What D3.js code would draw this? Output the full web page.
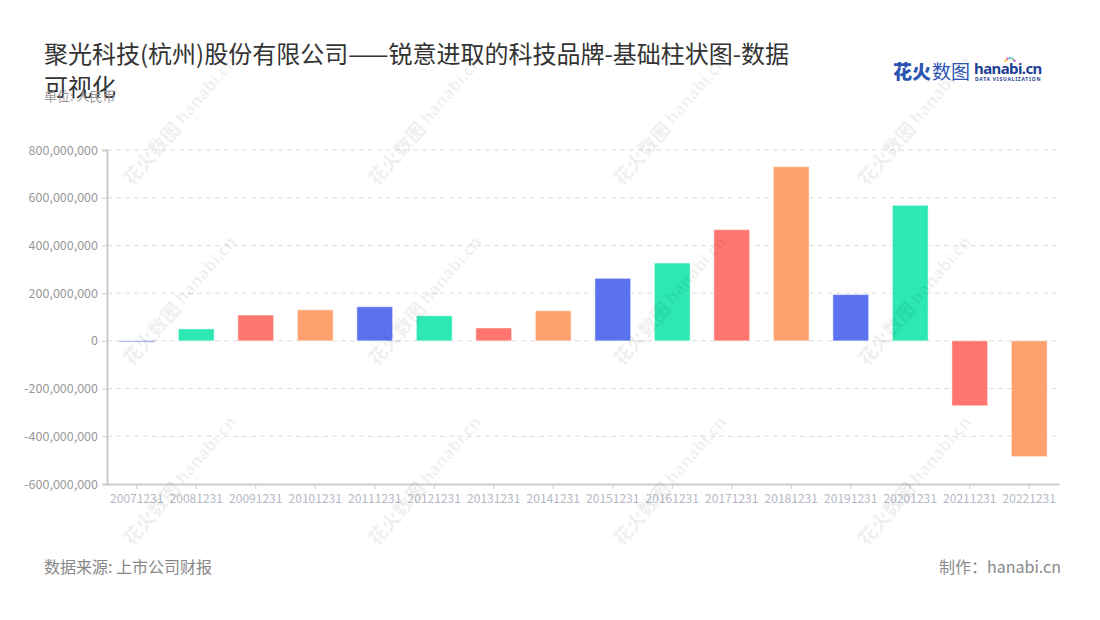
<!DOCTYPE html>
<html><head><meta charset="utf-8">
<script src="https://cdn.jsdelivr.net/npm/d3@7/dist/d3.min.js"></script>
<style>
html,body{margin:0;padding:0;background:#fff;}
svg{display:block;font-family:"Noto Sans CJK SC","Noto Sans",sans-serif;}
</style></head>
<body><svg id="c" width="1100" height="620"></svg>
<script>
const categories = ["20071231","20081231","20091231","20101231","20111231","20121231","20131231","20141231","20151231","20161231","20171231","20181231","20191231","20201231","20211231","20221231"];
const values = [-4e6, 50e6, 108e6, 130e6, 143e6, 105e6, 54e6, 126e6, 262e6, 326e6, 466e6, 730e6, 194e6, 568e6, -272e6, -485e6];
const yTicks = [-600e6, -400e6, -200e6, 0, 200e6, 400e6, 600e6, 800e6];
const palette = ["#5a72ee", "#2de8b2", "#ff7670", "#ffa26f"];
const titleLines = ["聚光科技(杭州)股份有限公司——锐意进取的科技品牌-基础柱状图-数据", "可视化"];
const subtitle = "单位: 人民币";
const sourceText = "数据来源: 上市公司财报";
const makerText = "制作：hanabi.cn";

(function () {
const svg = d3.select("#c");
const pLeft = 107, pRight = 1059, pTop = 150, pBottom = 484;

const x = d3.scaleBand().domain(categories).range([pLeft, pRight]).paddingInner(0.4).paddingOuter(0.2);
const y = d3.scaleLinear().domain([-600e6, 800e6]).range([pBottom, pTop]);
const fmt = d => (d < 0 ? "-" : "") + d3.format(",")(Math.abs(d));

// grid
svg.append("g").selectAll("line").data(yTicks.filter(t => t !== -600e6)).join("line")
  .attr("x1", pLeft).attr("x2", pRight)
  .attr("y1", d => y(d)).attr("y2", d => y(d))
  .attr("stroke", "#dcdcdc").attr("stroke-dasharray", "5,4").attr("stroke-width", 1);

// bars
svg.append("g").selectAll("rect").data(values).join("rect")
  .attr("x", (d, i) => x(categories[i]))
  .attr("width", x.bandwidth())
  .attr("y", d => y(Math.max(0, d)))
  .attr("height", d => Math.max(1, Math.abs(y(d) - y(0))))
  .attr("fill", (d, i) => palette[i % 4])
  .attr("stroke", "#fff").attr("stroke-opacity", 0.45).attr("stroke-width", 1);

// y axis
const yAxis = svg.append("g").attr("transform", `translate(${pLeft},0)`)
  .call(d3.axisLeft(y).tickValues(yTicks).tickFormat(fmt).tickSize(5).tickPadding(4));
yAxis.select(".domain").attr("stroke", "#cccccc").attr("stroke-width", 2);
yAxis.selectAll(".tick line").attr("stroke", "#cccccc");
yAxis.selectAll("text").attr("fill", "#999").attr("font-size", 12.5)
  .attr("font-family", "'Noto Sans CJK SC','Noto Sans',sans-serif");

// x axis
const xAxis = svg.append("g").attr("transform", `translate(0,${pBottom})`)
  .call(d3.axisBottom(x).tickSize(5).tickPadding(5).tickSizeOuter(0));
xAxis.select(".domain").attr("stroke", "#cccccc").attr("stroke-width", 2);
xAxis.selectAll(".tick line").attr("stroke", "#cccccc");
xAxis.selectAll("text").attr("fill", "#b4b8c4").attr("font-size", 12)
  .attr("font-family", "'Noto Sans CJK SC','Noto Sans',sans-serif");

// watermarks
const wmX = [132, 377, 622, 867], wmY = [187, 367, 547];
const wm = svg.append("g").attr("pointer-events", "none");
wmY.forEach(yy => wmX.forEach(xx => {
  const g = wm.append("g").attr("transform", `translate(${xx},${yy}) rotate(-49)`)
    .attr("fill", "#000").attr("fill-opacity", 0.06);
  g.append("text").attr("x", 0).attr("y", 0).attr("font-size", 19).attr("font-weight", 900).text("花火数图");
  g.append("text").attr("x", 80).attr("y", -2).attr("font-size", 17).attr("font-weight", 700)
    .attr("font-family", "'Noto Sans',sans-serif").text("hanabi.cn");
  g.append("text").attr("x", 81).attr("y", 6).attr("font-size", 5).attr("letter-spacing", 0.6)
    .attr("font-family", "'Noto Sans',sans-serif").text("DATA VISUALIZATION");
}));

// title
svg.append("g").selectAll("text").data(titleLines).join("text")
  .attr("x", 44).attr("y", (d, i) => 63 + i * 33)
  .attr("font-size", 24).attr("fill", "#333").text(d => d);
svg.append("text").attr("x", 44).attr("y", 101).attr("font-size", 13).attr("fill", "#999").text(subtitle);

// logo
const logo = svg.append("g");
logo.append("text").attr("x", 893).attr("y", 79).attr("font-size", 19).attr("font-weight", 900)
  .attr("fill", "#2a55b3").text("花火");
logo.append("text").attr("x", 932).attr("y", 79).attr("font-size", 19).attr("font-weight", 400)
  .attr("fill", "#2a55b3").text("数图");
logo.append("text").attr("x", 974).attr("y", 74).attr("font-size", 15).attr("font-weight", 700)
  .attr("font-family", "'Noto Sans',sans-serif").attr("fill", "#1f3f93").attr("letter-spacing", -0.6).text("hanabi.cn");
logo.append("text").attr("x", 975).attr("y", 81).attr("font-size", 5).attr("letter-spacing", 0.75)
  .attr("font-family", "'Noto Sans',sans-serif").attr("font-weight", 700).attr("fill", "#1f3f93").text("DATA VISUALIZATION");
const dotColors = ["#f5c542", "#f06292", "#4fc3f7", "#81c784", "#ba68c8"];
dotColors.forEach((c, i) => {
  const a = -Math.PI / 2 + (i - 2) * 0.55;
  logo.append("circle").attr("cx", 1010 + Math.cos(a) * 5).attr("cy", 63 + Math.sin(a) * 5)
    .attr("r", 1.3).attr("fill", c);
});

// footer
svg.append("text").attr("x", 44).attr("y", 573).attr("font-size", 16).attr("fill", "#888").text(sourceText);
svg.append("text").attr("x", 1061).attr("y", 573).attr("text-anchor", "end").attr("font-size", 16).attr("fill", "#888").text(makerText);
})();
</script></body></html>
